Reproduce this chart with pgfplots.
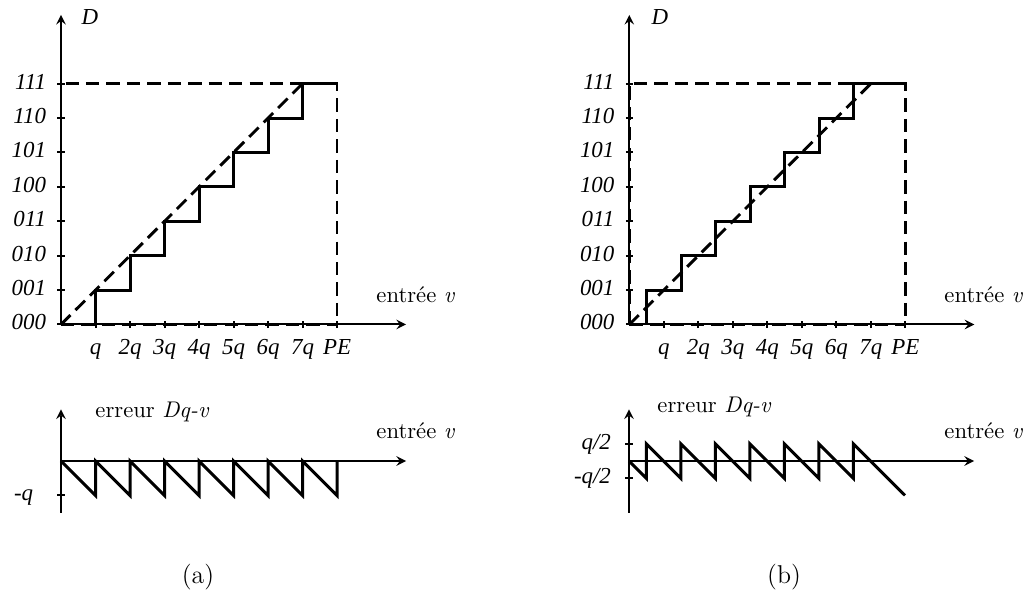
\documentclass[border=0pt]{standalone}
\usepackage{fontspec}
\newfontfamily\tnr{Liberation Serif}
\usepackage{pgfplots}
\pgfplotsset{compat=1.18}
\usetikzlibrary{arrows.meta}

\newcommand{\tl}[1]{\mbox{\tnr\itshape #1}}

\pgfplotsset{
  common/.style={
    clip=false,
    x=15.525pt, y=15.48pt,
    xmin=0, xmax=10,
    axis line style={line width=0.9pt, black, -{Latex[length=6.3pt,width=6.3pt]}},
    tick style={line width=0.9pt, black},
    major tick length=3.2pt,
    tick align=outside,
    tick label style={font=\fontsize{10.3}{12}\selectfont},
    typeset ticklabels with strut,
  },
  top/.style={
    common,
    axis lines=left,
    ymin=0, ymax=9,
    xtick={1,2,3,4,5,6,7,8},
    xticklabels={\tl{q},\tl{2q},\tl{3q},\tl{4q},\tl{5q},\tl{6q},\tl{7q},\tl{PE}},
    ytick={0,1,2,3,4,5,6,7},
    yticklabels={\tl{000},\tl{001},\tl{010},\tl{011},\tl{100},\tl{101},\tl{110},\tl{111}},
    yticklabel style={xshift=-1.6pt},
  },
  bottom/.style={
    common,
    axis lines=middle,
    ymin=-1.5, ymax=1.5,
    xtick=\empty,
  },
  solidline/.style={line width=1.35pt, black, no markers, line join=miter},
  dashline/.style={line width=1.3pt, black, no markers, dash pattern=on 6pt off 3.2pt},
}

\begin{document}
\begin{tikzpicture}
% ---------- (a) top ----------
\begin{axis}[top, at={(27.45pt,122.625pt)}, anchor=origin]
\addplot[dashline] coordinates {(0,0) (7,7)};
\addplot[dashline] coordinates {(0,0) (0,7) (8,7) (8,0)};
\addplot[dashline] coordinates {(0,0) (8,0)};
\addplot[solidline] coordinates {(1,0) (1,1) (2,1) (2,2) (3,2) (3,3) (4,3) (4,4) (5,4) (5,5) (6,5) (6,6) (7,6) (7,7) (8,7)};
\end{axis}
% ---------- (b) top ----------
\begin{axis}[top, at={(283.185pt,122.625pt)}, anchor=origin]
\addplot[dashline] coordinates {(0,0) (7,7)};
\addplot[dashline] coordinates {(0,0) (0,7) (8,7) (8,0)};
\addplot[dashline] coordinates {(0,0) (8,0)};
\addplot[solidline] coordinates {(0.5,0) (0.5,1) (1.5,1) (1.5,2) (2.5,2) (2.5,3) (3.5,3) (3.5,4) (4.5,4) (4.5,5) (5.5,5) (5.5,6) (6.5,6) (6.5,7) (8,7)};
\end{axis}
% ---------- (a) bottom ----------
\begin{axis}[bottom, at={(27.45pt,61.2pt)}, anchor=origin,
  ytick={-1}, yticklabels={\tl{-q}}, yticklabel style={xshift=-7.4pt}]
\addplot[solidline] coordinates {(0,0) (1,-1) (1,0) (2,-1) (2,0) (3,-1) (3,0) (4,-1) (4,0) (5,-1) (5,0) (6,-1) (6,0) (7,-1) (7,0) (8,-1) (8,0)};
\end{axis}
% ---------- (b) bottom ----------
\begin{axis}[bottom, at={(283.05pt,61.2pt)}, anchor=origin,
  ytick={-0.5,0.5}, yticklabels={\tl{-q/2},\tl{q/2}}, yticklabel style={xshift=-3pt}]
\addplot[solidline] coordinates {(0,0) (0.5,-0.5) (0.5,0.5) (1.5,-0.5) (1.5,0.5) (2.5,-0.5) (2.5,0.5) (3.5,-0.5) (3.5,0.5) (4.5,-0.5) (4.5,0.5) (5.5,-0.5) (5.5,0.5) (6.5,-0.5) (6.5,0.5) (8,-1)};
\end{axis}
% ---------- texts (image pixel coordinates) ----------
\begin{scope}[x=0.45pt, y=-0.45pt, yshift=268.65pt, font=\fontsize{10.2}{12}\selectfont]
\path (0,0) rectangle (1026,597);
\node[font=\fontsize{10.3}{12}\selectfont] at (90,17) {\tl{D}};
\node[font=\fontsize{10.3}{12}\selectfont] at (660,17) {\tl{D}};
\node[anchor=west, inner sep=0pt] at (376,295) {entrée \textit{v}};
\node[anchor=west, inner sep=0pt] at (944,295) {entrée \textit{v}};
\node[anchor=west, inner sep=0pt] at (376,431) {entrée \textit{v}};
\node[anchor=west, inner sep=0pt] at (944,431) {entrée \textit{v}};
\node[anchor=west, inner sep=0pt] at (95,412) {erreur \textit{Dq-v}};
\node[anchor=west, inner sep=0pt] at (657,407) {erreur \textit{Dq-v}};
\node[font=\fontsize{11.6}{14}\selectfont] at (198,577) {(a)};
\node[font=\fontsize{11.6}{14}\selectfont] at (784,577) {(b)};
\end{scope}
\end{tikzpicture}
\end{document}
